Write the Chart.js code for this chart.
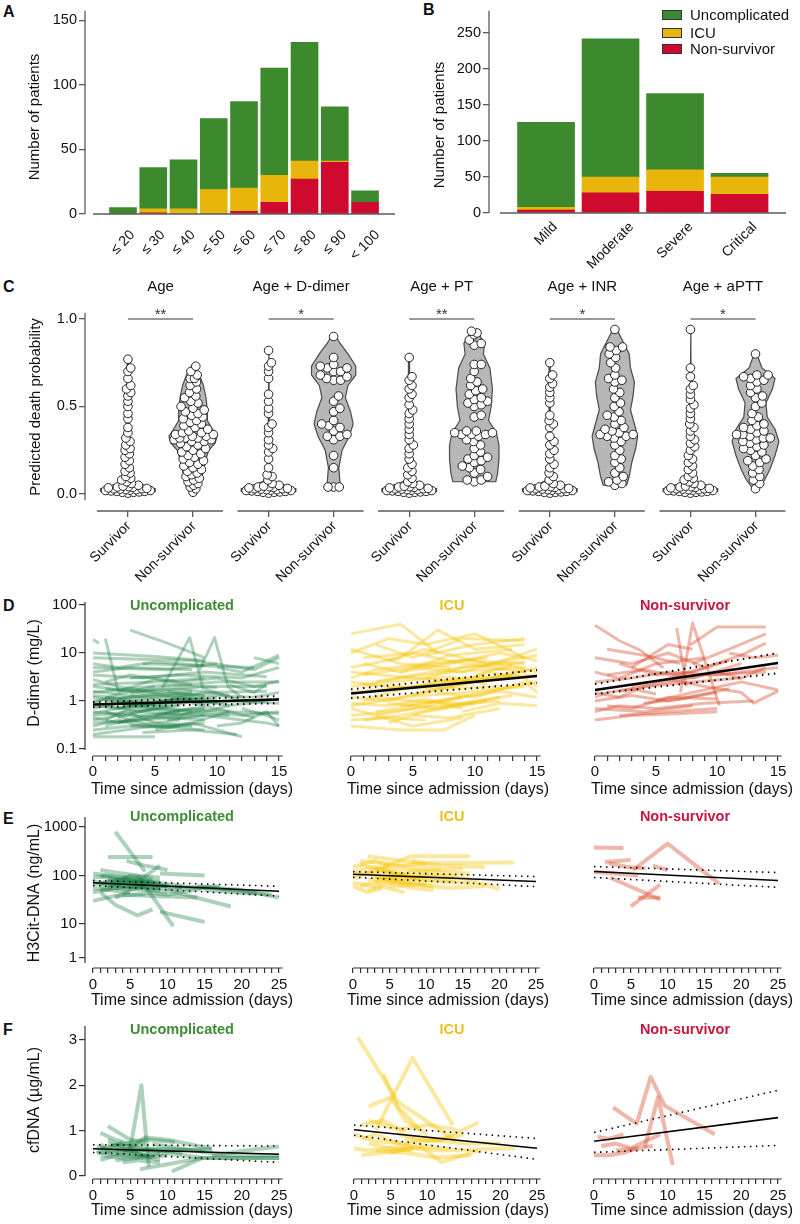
<!DOCTYPE html>
<html>
<head>
<meta charset="utf-8">
<title>Outcome panels</title>
<script src="https://cdn.jsdelivr.net/npm/chart.js@4.4.1/dist/chart.umd.min.js"></script>
<style>
  html, body { margin: 0; padding: 0; background: #fff; }
  body { position: relative; width: 800px; height: 1224px; overflow: hidden; font-family: "Liberation Sans", Arial, sans-serif; }
  canvas { position: absolute; }
  .tag { position: absolute; font-weight: bold; font-size: 16px; line-height: 16px; color: #111; }
</style>
</head>
<body>
<div class="tag" style="left:3px;top:4px">A</div>
<div class="tag" style="left:423px;top:2px">B</div>
<div class="tag" style="left:3px;top:279px">C</div>
<div class="tag" style="left:3px;top:598px">D</div>
<div class="tag" style="left:3px;top:811px">E</div>
<div class="tag" style="left:3px;top:1022px">F</div>
<script>
const FONT = '"Liberation Sans", Arial, sans-serif';
const GREEN = '#3d8a2e', YELLOW = '#e7b50b', RED = '#d00a2e';
const AXIS = '#5a5a5a', AXIS_DARK = '#333';

// ---- A: patients per age group
const ageGroups = ['≤ 20', '≤ 30', '≤ 40', '≤ 50', '≤ 60', '≤ 70', '≤ 80', '≤ 90', '< 100'];
const ageUncomplicated = [5, 32, 38, 55, 67, 83, 92, 42, 9];
const ageICU = [0, 3, 4, 19, 18, 21, 14, 1, 0];
const ageNonSurvivor = [0, 1, 0, 0, 2, 9, 27, 40, 9];
const ageTicks = [0, 50, 100, 150];

// ---- B: patients per severity
const severityGroups = ['Mild', 'Moderate', 'Severe', 'Critical'];
const sevUncomplicated = [118, 192, 106, 5];
const sevICU = [4, 22, 30, 24];
const sevNonSurvivor = [4, 28, 30, 26];
const sevTicks = [0, 50, 100, 150, 200, 250];

// ---- C: predicted death probability per model
const modelNames = ['Age', 'Age + D-dimer', 'Age + PT', 'Age + INR', 'Age + aPTT'];
const modelSig = ['**', '*', '**', '*', '*'];
const outcomeLabels = ['Survivor', 'Non-survivor'];
const probTicks = [0, 0.5, 1.0];
const survivorLow = [0.005, 0.01, 0.01, 0.012, 0.015, 0.015, 0.018, 0.02, 0.02, 0.022, 0.025, 0.025,
  0.028, 0.03, 0.03, 0.032, 0.035, 0.038, 0.04, 0.042, 0.045, 0.05];
const survivorProb = [
  [0.77, 0.72, 0.70, 0.66, 0.62, 0.60, 0.58, 0.56, 0.53, 0.50, 0.46, 0.43, 0.38, 0.35, 0.32, 0.30, 0.28, 0.26, 0.25, 0.23, 0.21, 0.19, 0.17, 0.15, 0.13, 0.12, 0.10, 0.09, 0.08, 0.07, 0.06],
  [0.82, 0.75, 0.73, 0.70, 0.66, 0.57, 0.53, 0.49, 0.46, 0.40, 0.38, 0.35, 0.31, 0.28, 0.26, 0.24, 0.20, 0.15, 0.11, 0.10, 0.08, 0.06],
  [0.78, 0.67, 0.65, 0.62, 0.60, 0.57, 0.55, 0.51, 0.48, 0.46, 0.43, 0.40, 0.37, 0.34, 0.31, 0.28, 0.26, 0.23, 0.20, 0.17, 0.15, 0.13, 0.11, 0.09, 0.07, 0.06],
  [0.75, 0.68, 0.66, 0.63, 0.61, 0.58, 0.55, 0.52, 0.45, 0.42, 0.40, 0.38, 0.33, 0.30, 0.28, 0.25, 0.23, 0.20, 0.17, 0.15, 0.12, 0.10, 0.08, 0.06],
  [0.94, 0.72, 0.67, 0.62, 0.60, 0.57, 0.54, 0.51, 0.49, 0.46, 0.43, 0.40, 0.38, 0.36, 0.33, 0.31, 0.29, 0.27, 0.25, 0.22, 0.20, 0.18, 0.16, 0.14, 0.12, 0.10, 0.09, 0.08, 0.07, 0.06]
];
const nonSurvivorProb = [
  [0.73, 0.70, 0.68, 0.66, 0.66, 0.64, 0.62, 0.60, 0.58, 0.56, 0.55, 0.53, 0.52, 0.50, 0.49, 0.48, 0.47, 0.46, 0.45, 0.44, 0.43, 0.42, 0.41, 0.40, 0.39, 0.38, 0.37, 0.36, 0.35, 0.35, 0.34, 0.34, 0.33, 0.33, 0.32, 0.32, 0.32, 0.31, 0.31, 0.30, 0.30, 0.29, 0.28, 0.27, 0.26, 0.25, 0.24, 0.23, 0.22, 0.21, 0.20, 0.19, 0.18, 0.17, 0.16, 0.15, 0.14, 0.13, 0.12, 0.11, 0.10, 0.09, 0.08, 0.07, 0.06, 0.05, 0.04, 0.03, 0.01],
  [0.90, 0.78, 0.74, 0.73, 0.72, 0.72, 0.70, 0.70, 0.68, 0.67, 0.66, 0.65, 0.65, 0.56, 0.53, 0.49, 0.47, 0.42, 0.40, 0.39, 0.38, 0.36, 0.34, 0.33, 0.33, 0.31, 0.22, 0.15, 0.04, 0.04, 0.04],
  [0.93, 0.92, 0.91, 0.88, 0.86, 0.85, 0.74, 0.74, 0.70, 0.66, 0.64, 0.62, 0.60, 0.59, 0.57, 0.55, 0.54, 0.53, 0.52, 0.51, 0.50, 0.45, 0.44, 0.36, 0.36, 0.35, 0.35, 0.34, 0.34, 0.34, 0.33, 0.31, 0.30, 0.28, 0.26, 0.24, 0.22, 0.21, 0.20, 0.19, 0.18, 0.16, 0.15, 0.14, 0.12, 0.10, 0.08, 0.08, 0.07],
  [0.94, 0.84, 0.84, 0.82, 0.80, 0.78, 0.75, 0.72, 0.68, 0.66, 0.65, 0.64, 0.60, 0.58, 0.55, 0.52, 0.50, 0.47, 0.45, 0.44, 0.42, 0.40, 0.38, 0.37, 0.36, 0.35, 0.34, 0.34, 0.33, 0.33, 0.32, 0.30, 0.28, 0.25, 0.22, 0.20, 0.18, 0.15, 0.12, 0.10, 0.08, 0.07, 0.06, 0.05],
  [0.80, 0.68, 0.68, 0.67, 0.66, 0.65, 0.64, 0.62, 0.60, 0.58, 0.56, 0.55, 0.52, 0.50, 0.46, 0.44, 0.42, 0.40, 0.39, 0.38, 0.37, 0.36, 0.35, 0.34, 0.34, 0.33, 0.32, 0.32, 0.31, 0.30, 0.29, 0.28, 0.27, 0.26, 0.25, 0.24, 0.22, 0.20, 0.19, 0.18, 0.16, 0.14, 0.12, 0.10, 0.08, 0.06, 0.03]
];
// violin outlines: density half-widths (x units) at probability levels
const survViolinY = [0, 0.015, 0.03, 0.05, 0.08, 0.12];
const survViolinW = [0.32, 0.42, 0.42, 0.22, 0.04, 0.012];
const survViolinTop = [0.77, 0.82, 0.78, 0.75, 0.94];
const nonViolinY = [
  [0.01, 0.05, 0.10, 0.15, 0.20, 0.25, 0.29, 0.33, 0.37, 0.42, 0.48, 0.55, 0.62, 0.68, 0.73],
  [0.03, 0.06, 0.15, 0.25, 0.33, 0.40, 0.47, 0.55, 0.62, 0.68, 0.73, 0.80, 0.86, 0.91],
  [0.07, 0.12, 0.20, 0.28, 0.35, 0.42, 0.50, 0.60, 0.72, 0.80, 0.86, 0.93],
  [0.05, 0.10, 0.18, 0.26, 0.33, 0.40, 0.48, 0.56, 0.64, 0.72, 0.80, 0.86, 0.94],
  [0.03, 0.08, 0.14, 0.22, 0.30, 0.37, 0.44, 0.52, 0.60, 0.66, 0.72, 0.80]
];
const nonViolinW = [
  [0.02, 0.10, 0.14, 0.17, 0.20, 0.24, 0.34, 0.37, 0.30, 0.22, 0.22, 0.20, 0.16, 0.10, 0.02],
  [0.13, 0.10, 0.08, 0.13, 0.24, 0.30, 0.26, 0.18, 0.22, 0.34, 0.34, 0.22, 0.10, 0.02],
  [0.33, 0.36, 0.38, 0.38, 0.34, 0.22, 0.26, 0.28, 0.24, 0.14, 0.16, 0.04],
  [0.18, 0.22, 0.26, 0.32, 0.35, 0.30, 0.24, 0.28, 0.30, 0.24, 0.22, 0.14, 0.03],
  [0.04, 0.14, 0.22, 0.30, 0.36, 0.30, 0.18, 0.16, 0.26, 0.30, 0.10, 0.02]
];

// ---- D/E/F: per-patient trajectories, flat [day, value, day, value, ...]
const dayTicks15 = [0, 1, 2, 3, 4, 5, 6, 7, 8, 9, 10, 11, 12, 13, 14, 15];
const dayTicks25 = [0, 1, 2, 3, 4, 5, 6, 7, 8, 9, 10, 11, 12, 13, 14, 15, 16, 17, 18, 19, 20, 21, 22, 23, 24, 25];
const dimerTicks = [0.1, 1, 10, 100];
const dimerTickLabels = ['0.1', '1', '10', '100'];
const h3Ticks = [2, 10, 100, 1000];
const h3TickLabels = ['1', '10', '100', '1000'];
const cfTicks = [0, 1, 2, 3];
const cfTickLabels = ['0', '1', '2', '3'];

const dimerUncomplicated = [
  [0,0.35, 4,0.4, 9,0.5], [0,0.5, 3,0.6, 7,0.8], [0,0.7, 2,0.9, 5,1.1, 9,0.9], [0,1.0, 4,1.3, 8,1.6],
  [0,1.5, 3,1.8, 6,2.2, 10,1.9], [0,2.2, 5,2.5, 9,3.0], [0,3.5, 4,3.0, 9,4.0, 14,3.2], [0,5.0, 6,4.5, 10,6.0],
  [0,10, 5,8.5, 9,7.0], [0,8.0, 3,7.5, 8,7.0, 13,4.5, 15,8.0], [0,0.25, 3,0.3, 7,0.4], [0,0.18, 5,0.18],
  [0,0.2, 4,0.28, 8,0.35, 11,0.6], [0,0.45, 2,0.35, 6,0.55, 11,0.5], [0,0.6, 3,0.5, 6,0.45, 9,0.4],
  [0,0.8, 2,0.7, 4,0.9, 9,1.2], [0,1.2, 2,1.0, 6,0.8], [0,2.8, 2,2.0, 5,1.5, 9,1.3], [0,4.0, 3,5.0, 8,4.5],
  [0,0.9, 2,1.4, 5,2.0], [0,19, 0.5,16], [1,20, 2,1.7], [1,0.4, 3,0.7, 6,0.9, 10,1.2], [1,0.3, 4,0.5, 7,0.6],
  [1,1.8, 4,1.5, 9,2.0, 14,2.0], [1,2.5, 3,3.5, 7,2.5], [1,0.6, 3,0.4, 5,0.3, 9,0.25], [2,0.7, 5,0.9, 9,1.5, 14,1.6],
  [2,1.1, 5,1.4, 9,0.9, 15,1.1], [2,0.9, 6,0.7, 12,0.5, 15,0.6], [2,0.45, 4,0.6, 8,1.0], [3,30, 6,16, 9,8],
  [3,1.4, 6,2.0, 10,2.5, 15,2.5], [3,0.55, 5,0.35, 8,0.3], [3,3.0, 7,3.5, 12,3.0, 15,5.0], [4,0.8, 7,1.2, 11,0.8],
  [4,6.0, 8,5.5, 13,5.0], [4,0.22, 8,0.25, 11.6,0.2], [5,0.25, 8,0.35, 12,0.18], [5.6,1.9, 7.8,21, 8.9,1.7],
  [5,0.5, 8,0.7, 11,0.6, 15,0.55], [6,1.6, 9,1.3, 13,1.2, 15,1.5], [6,0.4, 9,0.5, 14,0.35, 15,0.3],
  [7,2.5, 10,3.0, 13,2.0, 15,2.6], [8.6,4.4, 9.8,21, 10.9,1.95, 12,1.2], [8,0.9, 10,0.7, 13,0.45],
  [9,0.6, 11,0.8, 14,1.0], [9,1.8, 12,1.0, 15,0.9], [10,5.0, 12,4.0, 15,9.0], [10,0.3, 12,0.35, 14,0.6, 15,0.3],
  [11,2.2, 13,1.5, 14,2.2], [12,0.7, 14,0.5, 15,0.4], [0,1.3, 3,1.1, 7,1.3, 10,1.0], [0,0.4, 2,0.5, 5,0.7, 8,0.6],
  [1,0.8, 4,0.6, 7,0.5, 9,0.7], [0,2.0, 3,1.6, 7,1.8, 11,1.3], [0,0.3, 2,0.4, 4,0.3, 7,0.3], [2,1.6, 5,2.8, 8,2.2],
  [1,1.2, 3,1.0, 5,0.9], [0,6.0, 2,5.0, 5,6.5, 9,5.5], [3,0.3, 6,0.28, 9,0.35], [13,8.0, 15,6.0],
  [0,0.55, 3,0.8, 6,0.6, 9,0.75], [1,1.0, 4,0.9, 8,1.1], [2,0.35, 5,0.45, 9,0.6], [0,1.6, 4,1.2, 8,1.4]
];
const dimerICU = [
  [0,0.3, 4,0.25, 7.5,0.25, 10,0.5], [0,0.5, 3,0.6, 7,0.8, 12,1.0], [0,0.8, 4,1.2, 9,1.5, 14,2.0], [0,1.2, 3,1.0, 6,1.6, 10,2.5],
  [0,2.0, 4,3.0, 8,4.0, 14,5.0], [0,3.0, 2,4.5, 6,6.0, 11,8.0], [0,5.0, 4,8.0, 7,30, 10,12, 14,15], [0,10, 3,20, 6,15, 10,25, 14,8],
  [0,25, 4,40, 7,10], [0,0.7, 2,0.5, 5,0.7, 9,1.2], [0,1.5, 5,2.0, 9,3.0, 15,3.5], [1,0.4, 4,0.5, 8,0.8, 12,1.2],
  [1,3.5, 5,5.0, 9,7.0, 14,6.0], [1,6.0, 4,4.0, 8,9.0, 13,12], [1,1.0, 3,1.5, 7,2.5, 11,3.0], [2,0.6, 6,0.9, 10,1.4, 15,2.5],
  [2,15, 5,8, 9,20, 14,18], [2,2.5, 5,3.5, 10,5.5, 14,4.0], [3,0.35, 6,0.6, 10,0.9], [3,7.0, 6,12, 11,6.0, 15,9.0],
  [3,1.8, 7,2.2, 12,3.0, 15,5.0], [4,0.8, 7,1.0, 12,1.6, 15,1.2], [4,4.0, 8,6.0, 12,10, 15,7.0], [5,1.3, 8,2.0, 11,2.8, 14,4.5],
  [5,0.5, 8,0.45, 12,0.7], [6,3.0, 9,5.0, 14,6.5], [6,9.0, 10,15, 14,20], [7,1.5, 10,1.2, 14,2.5, 15,1.5],
  [0,0.9, 3,0.8, 6,1.1, 9,0.7], [0,4.0, 5,3.0, 9,2.5, 13,3.5], [0,2.5, 3,2.0, 8,1.8, 12,2.0], [2,1.2, 5,1.0, 9,0.9, 13,1.3],
  [1,8.0, 5,10, 9,6.0, 13,5.5], [0,0.4, 3,0.45, 6,0.4], [8,2.0, 11,4.0, 14,3.0, 15,2.0], [9,0.6, 12,0.9, 15,0.8],
  [3,0.9, 7,0.7, 11,1.0], [5,5.0, 9,4.0, 13,8.0, 15,12], [1,2.0, 4,2.6, 8,3.2, 11,2.2], [10,3.5, 13,5.5, 15,4.0],
  [0,12, 4,6.0, 8,5.0], [2,0.5, 5,0.3, 9,0.45]
];
const dimerNonSurvivor = [
  [0,38, 2,18, 3.7,11.5, 5.6,4.9], [0,0.4, 3,0.5, 7,0.55, 10,0.6], [0,0.6, 2,0.8, 5,0.7, 9,0.9, 13,1.0], [0,1.0, 3,1.3, 6,1.0, 10,1.5],
  [0,1.5, 2,1.2, 4,2.0, 8,2.5, 12,3.0], [0,2.5, 3,3.0, 6,4.0, 10,3.5, 15,5.0], [0,4.0, 2,3.0, 5,6.0, 9,8.0], [0,8.0, 3,6.0, 6,10, 9,5.0],
  [0,1.2, 1,1.5, 3,1.8, 5,1.4], [1,0.8, 3,0.7, 6,1.2, 10,1.1], [1,3.5, 4,4.5, 8,3.0, 12,6.0], [1,12, 4,9.0, 7,6.0],
  [2,1.6, 5,2.2, 9,3.5, 14,4.0], [2,0.5, 6,0.6, 10,0.7], [3,5.0, 6,15, 8,12], [3,2.0, 6,2.8, 9,2.0], [6.7,33, 7.5,2.0],
  [7,1.5, 8,42, 10.2,0.8], [7.8,14.7, 10,35, 14,35], [5,1.0, 8,1.5, 12,2.5, 15,1.7], [6,3.0, 9,5.0, 12,9.0, 14,16],
  [8,6.0, 11,12, 14,25], [9,2.0, 12,1.5, 13,0.9, 15,1.6], [10,4.0, 12,3.0, 14,5.0], [4,0.9, 7,1.1, 11,1.8],
  [0,0.7, 4,0.6, 8,0.8], [2,6.0, 5,3.5, 8,4.0, 11,7.0], [11,10, 13,8.0, 15,9.0]
];
const h3Uncomplicated = [
  [0,65, 3,75, 6,70, 10,60], [0,90, 2,100, 5,85, 9,75], [0,45, 3,55, 7,50, 10,45], [0,110, 3,95, 6,90], [0,30, 3,38, 7,42],
  [1,130, 3,115, 6,100, 9,90], [1,70, 4,85, 8,65, 12,55], [1,50, 5,62, 9,55], [1,95, 4,78, 7,72], [2,60, 5,100, 8,85],
  [2,75, 4,60, 6,55, 9,50], [3,800, 7,120], [2,240, 8,240], [4.5,200, 7,160, 10,130], [6,100, 10.8,9], [1,45, 3,25, 6,15, 8,20],
  [9,18, 15,11], [10,50, 18.5,23], [9,110, 15,100], [14,60, 20,50, 25,35], [15,50, 22,42], [3,55, 6,60, 11,52, 17,60],
  [4,40, 8,38, 14,35], [0,55, 2,50, 5,45], [5,70, 8,65, 10,60], [2,85, 6,75, 9,160], [7,45, 10,40, 15,55], [3,35, 5,50, 8,70],
  [0,75, 2,65, 4,70], [6,80, 9,70, 12,60], [11,60, 16,55, 24,40], [1,60, 3,65, 5,60, 7,58], [4,90, 6,80, 9,68],
  [2,55, 4,70, 7,62, 9,58], [3,80, 5,72, 8,75]
];
const h3ICU = [
  [0,120, 3,150, 6,100, 9,90], [0,90, 2,110, 5,80, 8,70], [0,150, 3,200, 5,160], [0,70, 3,60, 6,75, 10,65],
  [1,200, 4,180, 8,150, 12,140], [1,100, 3,130, 7,110], [1,60, 4,80, 8,55, 11,50], [2,250, 6,210, 10,170],
  [2,80, 5,95, 9,85, 14,80], [3,130, 8,250, 16,250], [4,150, 10,180, 22,185], [3,70, 8,120, 15,140], [5,110, 9,100, 15,90, 20,52],
  [4,90, 7,70, 11,60], [0,105, 4,120, 7,95], [2,50, 4,60, 7,45], [6,140, 10,120, 16,110], [5,60, 9,65, 13,55, 18,60],
  [1,170, 3,140, 6,130], [7,90, 11,75, 16,70], [0,60, 2,45, 4,55], [8,200, 12,160, 18,150], [3,100, 6,85, 10,100, 14,95]
];
const h3NonSurvivor = [
  [0,380, 4,370], [1.5,190, 5,210], [2,180, 4.5,150, 7,140], [5.3,130, 10,455, 17,68], [2.2,90, 9,32], [5,23, 9,65],
  [6,35, 9,35], [8,160, 10,130], [0,120, 3,110, 6,100]
];
const cfUncomplicated = [
  [1,0.95, 3,0.8, 5,0.7], [2,1.1, 5,0.8, 7,0.75], [0.5,0.5, 3,0.55, 6,0.6, 9,0.5], [1,0.6, 4,0.7, 7,0.8, 11,0.75],
  [1,0.45, 4,0.4, 8,0.45], [2,0.7, 5,0.65, 9,0.55, 16,0.6], [0.5,0.55, 2,0.5, 5,0.45, 8,0.4], [3,0.35, 6,0.4, 10,0.45],
  [5,0.6, 6.5,2.0, 7.5,0.2], [6.3,0.15, 14.7,0.4], [10.6,0.1, 14.7,0.4, 25,0.4], [4,0.5, 7,0.85, 10,0.8, 16,0.6],
  [2,0.8, 4,0.65, 7,0.7], [1,0.35, 3,0.45, 6,0.5, 9,0.35], [3,0.6, 6,0.55, 10,0.6, 15,0.55], [6,0.45, 10,0.5, 15,0.4, 25,0.4],
  [8,0.7, 12,0.6, 18,0.45, 25,0.45], [1,0.7, 2,0.55, 4,0.6, 6,0.5], [4,0.3, 6,0.35, 9,0.3], [16,0.45, 20,0.55, 25,0.65],
  [5,0.55, 8,0.6, 12,0.5], [0.5,0.65, 2,0.6, 4,0.75], [3,0.5, 5,0.55, 7,0.45]
];
const cfICU = [
  [0.5,3.0, 6,1.6, 14,0.75], [3,1.0, 8,2.55, 13.5,1.1], [2,1.5, 5,1.7, 7,1.2, 10,0.9], [1,0.8, 3,0.9, 6,0.7, 9,0.6],
  [0,0.6, 2,0.55, 5,0.6, 8,0.55], [1,1.1, 4,1.2, 7,0.95], [2,0.7, 5,0.6, 9,0.65, 13,0.6], [4,2.2, 6,1.5, 9,1.0],
  [0,0.9, 3,0.75, 7,0.7, 12,0.8, 17,1.15], [5,0.5, 8,0.6, 12,0.55, 22,0.6], [6,0.9, 10,0.8, 15,0.7, 20,0.7],
  [3,0.55, 7,0.5, 11,0.4, 16,0.45], [9,0.65, 12,0.3, 17,0.55], [1,0.45, 4,0.5, 8,0.6], [2,1.2, 6,1.0, 10,1.1, 14,1.0],
  [7,0.8, 11,0.75, 15,0.9]
];
const cfNonSurvivor = [
  [2.6,1.48, 5.8,1.13, 7.7,2.14, 9.6,1.52, 16.4,0.9], [6.9,0.62, 8.7,1.7, 10.7,0.24], [0.5,0.85, 2,0.8, 4,0.9],
  [1,0.65, 3,0.7, 5,0.6, 7,0.75, 9,0.9], [0,0.45, 2,0.45, 4,0.5, 6,0.6], [3,0.55, 6,0.6, 8,0.65]
];
// regression fit and confidence band, [value at day 0, value at last day], per outcome
const dimerFit = [[0.85, 1.07], [1.43, 3.3], [1.7, 6.2]];
const dimerLo = [[0.75, 0.9], [1.15, 2.37], [1.4, 3.8]];
const dimerHi = [[0.95, 1.27], [1.75, 4.4], [2.25, 10]];
const h3Fit = [[71, 47.5], [106, 75], [121, 79]];
const h3Lo = [[62, 37.5], [92, 59], [91, 57]];
const h3Hi = [[78.5, 60], [120, 95], [153, 115]];
const cfFit = [[0.6, 0.48], [1.0, 0.6], [0.75, 1.26]];
const cfLo = [[0.52, 0.3], [0.88, 0.36], [0.51, 0.66]];
const cfHi = [[0.69, 0.66], [1.1, 0.81], [0.94, 1.85]];

const outcomeNames = ['Uncomplicated', 'ICU', 'Non-survivor'];
const titleColors = ['#3f8c36', '#e9bf1d', '#c8163d'];
const lineColors = ['rgba(22,122,62,0.35)', 'rgba(246,198,12,0.4)', 'rgba(218,82,52,0.42)'];

Chart.defaults.font.family = FONT;
Chart.defaults.font.size = 14.5;
Chart.defaults.color = '#111';
Chart.defaults.animation = false;
Chart.defaults.events = [];
Chart.defaults.plugins.legend.display = false;
Chart.defaults.plugins.tooltip.enabled = false;

function mkCanvas(x, y, w, h) {
  const c = document.createElement('canvas');
  c.width = w; c.height = h;
  c.style.cssText = `left:${x}px;top:${y}px;width:${w}px;height:${h}px`;
  document.body.appendChild(c);
  return c;
}

function fixedTicks(values) {
  return s => { s.ticks = values.map(v => ({ value: v })); };
}

// axis lines detached from each other, rotated labels, free texts
function overlay(cfg) {
  return {
    id: 'overlay',
    afterDraw(chart) {
      const ctx = chart.ctx, area = chart.chartArea;
      const xs = chart.scales.x, ys = chart.scales.y;
      ctx.save();
      ctx.strokeStyle = cfg.axisColor;
      ctx.lineWidth = cfg.axisWidth || 1.3;
      if (cfg.yLine) {
        ctx.beginPath();
        ctx.moveTo(area.left, ys.getPixelForValue(cfg.yLine[0]));
        ctx.lineTo(area.left, ys.getPixelForValue(cfg.yLine[1]));
        ctx.stroke();
      }
      (cfg.xLines || []).forEach(([a, b]) => {
        ctx.beginPath();
        ctx.moveTo(xs.getPixelForValue(a), area.bottom);
        ctx.lineTo(xs.getPixelForValue(b), area.bottom);
        ctx.stroke();
      });
      if (cfg.catLabels) {
        const c = cfg.catLabels;
        ctx.font = c.font;
        ctx.fillStyle = '#111';
        c.values.forEach((v, i) => {
          const txt = c.labels[i % c.labels.length];
          const px = xs.getPixelForValue(v);
          ctx.save();
          if (c.mode === 'center') {
            const box = (ctx.measureText(txt).width + c.h) * Math.SQRT1_2;
            ctx.translate(px, c.top - cfg.oy + box / 2);
            ctx.textAlign = 'center';
          } else {
            ctx.translate(px + c.dx, c.top - cfg.oy);
            ctx.textAlign = 'right';
          }
          ctx.rotate(-Math.PI / 4);
          ctx.textBaseline = 'middle';
          ctx.fillText(txt, 0, 0);
          ctx.restore();
        });
      }
      (cfg.legend || []).forEach(it => {
        ctx.fillStyle = it.color;
        ctx.fillRect(it.x - cfg.ox, it.y - cfg.oy - 5, 20, 10);
        ctx.lineWidth = 1;
        ctx.strokeStyle = '#333';
        ctx.strokeRect(it.x - cfg.ox + 0.5, it.y - cfg.oy - 4.5, 19, 9);
        ctx.fillStyle = '#111';
        ctx.font = '15px ' + FONT;
        ctx.textAlign = 'left';
        ctx.textBaseline = 'middle';
        ctx.fillText(it.t, it.x - cfg.ox + 28, it.y - cfg.oy + 1);
      });
      (cfg.texts || []).forEach(t => {
        const x = t.xv !== undefined ? xs.getPixelForValue(t.xv) : t.x - cfg.ox;
        const y = t.yv !== undefined ? ys.getPixelForValue(t.yv) + (t.dy || 0) : t.y - cfg.oy;
        ctx.save();
        ctx.translate(x, y);
        if (t.rot) ctx.rotate(t.rot * Math.PI / 180);
        ctx.font = t.font;
        ctx.fillStyle = t.color || '#111';
        ctx.textAlign = t.align || 'center';
        ctx.textBaseline = t.base || 'middle';
        ctx.fillText(t.t, 0, 0);
        ctx.restore();
      });
      ctx.restore();
    }
  };
}

function pairs(flat) {
  const pts = [];
  for (let i = 0; i < flat.length; i += 2) pts.push({ x: flat[i], y: flat[i + 1] });
  return pts;
}

// ---------------- A ----------------
const ageIdx = ageGroups.map((_, i) => i);
new Chart(mkCanvas(0, 0, 400, 290), {
  type: 'bar',
  data: {
    datasets: [
      { label: 'Non-survivor', data: ageNonSurvivor.map((v, i) => ({ x: i, y: v })), backgroundColor: RED },
      { label: 'ICU', data: ageICU.map((v, i) => ({ x: i, y: v })), backgroundColor: YELLOW },
      { label: 'Uncomplicated', data: ageUncomplicated.map((v, i) => ({ x: i, y: v })), backgroundColor: GREEN }
    ]
  },
  options: {
    responsive: false,
    layout: { autoPadding: false, padding: { left: 0, top: 5, right: 5, bottom: 0 } },
    datasets: { bar: { barThickness: 27, borderWidth: 0 } },
    scales: {
      x: {
        type: 'linear', stacked: true, offset: false, min: -1.256, max: 8.99,
        afterBuildTicks: fixedTicks(ageIdx), afterFit: s => { s.height = 76; },
        border: { display: false }, grid: { display: false, drawTicks: false, offset: false }, ticks: { display: false }
      },
      y: {
        type: 'linear', stacked: true, min: 0, max: 157.5,
        afterBuildTicks: fixedTicks(ageTicks), afterFit: s => { s.width = 85; },
        border: { display: false }, grid: { drawOnChartArea: false, tickLength: 6, color: AXIS, lineWidth: 1.3 },
        ticks: { padding: 2 }
      }
    }
  },
  plugins: [overlay({
    ox: 0, oy: 0, axisColor: AXIS, yLine: [157.5, 0], xLines: [[-0.99, 8.99]],
    catLabels: { mode: 'center', values: ageIdx, labels: ageGroups, top: 229, h: 11, font: '14px ' + FONT },
    texts: [{ t: 'Number of patients', x: 35, y: 117, rot: -90, font: '15px ' + FONT }]
  })]
});

// ---------------- B ----------------
const sevIdx = severityGroups.map((_, i) => i);
new Chart(mkCanvas(400, 0, 400, 290), {
  type: 'bar',
  data: {
    datasets: [
      { label: 'Non-survivor', data: sevNonSurvivor.map((v, i) => ({ x: i, y: v })), backgroundColor: RED },
      { label: 'ICU', data: sevICU.map((v, i) => ({ x: i, y: v })), backgroundColor: YELLOW },
      { label: 'Uncomplicated', data: sevUncomplicated.map((v, i) => ({ x: i, y: v })), backgroundColor: GREEN }
    ]
  },
  options: {
    responsive: false,
    layout: { autoPadding: false, padding: { left: 0, top: 5, right: 14, bottom: 0 } },
    datasets: { bar: { barThickness: 57, borderWidth: 0 } },
    scales: {
      x: {
        type: 'linear', stacked: true, offset: false, min: -0.884, max: 3.72,
        afterBuildTicks: fixedTicks(sevIdx), afterFit: s => { s.height = 77; },
        border: { display: false }, grid: { display: false, drawTicks: false, offset: false }, ticks: { display: false }
      },
      y: {
        type: 'linear', stacked: true, min: 0, max: 281,
        afterBuildTicks: fixedTicks(sevTicks), afterFit: s => { s.width = 89; },
        border: { display: false }, grid: { drawOnChartArea: false, tickLength: 6, color: AXIS, lineWidth: 1.3 },
        ticks: { padding: 2 }
      }
    }
  },
  plugins: [overlay({
    ox: 400, oy: 0, axisColor: AXIS, yLine: [281, 0], xLines: [[-0.713, 3.72]],
    catLabels: { mode: 'center', values: sevIdx, labels: severityGroups, top: 221, h: 11, font: '14px ' + FONT },
    legend: [
      { t: 'Uncomplicated', color: GREEN, x: 662, y: 15 },
      { t: 'ICU', color: YELLOW, x: 662, y: 33 },
      { t: 'Non-survivor', color: RED, x: 662, y: 49 }
    ],
    texts: [{ t: 'Number of patients', x: 440, y: 125, rot: -90, font: '15px ' + FONT }]
  })]
});

// ---------------- C ----------------
const GROUP_GAP = 2.1615;
const PX_X = 65, PX_Y = 175; // approx pixels per unit, for the swarm layout only
function interp(levels, widths, y) {
  if (y <= levels[0]) return widths[0];
  for (let i = 1; i < levels.length; i++) {
    if (y <= levels[i]) {
      const f = (y - levels[i - 1]) / (levels[i] - levels[i - 1]);
      return widths[i - 1] + f * (widths[i] - widths[i - 1]);
    }
  }
  return widths[widths.length - 1];
}
// points spread sideways inside the violin; they overlap where the violin is too narrow
function swarm(vals, center, minDist, levels, widths) {
  const placed = [];
  return vals.slice().sort((a, b) => a - b).map(v => {
    const cap = Math.max(interp(levels, widths, v) * PX_X - 2, 3);
    let best = 0, bestD = -1;
    for (let k = 0; ; k++) {
      const cand = (k % 2 ? 1 : -1) * Math.ceil(k / 2) * 0.7;
      if (Math.abs(cand) > cap) break;
      let d = Infinity;
      placed.forEach(p => { d = Math.min(d, Math.hypot(p[0] - cand, (p[1] - v) * PX_Y)); });
      if (d >= minDist) { best = cand; break; }
      if (d > bestD) { bestD = d; best = cand; }
    }
    placed.push([best, v]);
    return { x: center + best / PX_X, y: v };
  });
}
function violin(levels, widths, center) {
  const right = levels.map((y, i) => ({ x: center + widths[i], y }));
  const left = levels.map((y, i) => ({ x: center - widths[i], y })).reverse();
  return right.concat(left, [right[0]]);
}
const cDatasets = [];
const cTickVals = [];
const cXLines = [];
const cTexts = [];
modelNames.forEach((name, g) => {
  const base = g * GROUP_GAP;
  cTickVals.push(base, base + 1);
  cXLines.push([base - 0.477, base + 1.46]);
  const sY = survViolinY.concat([survViolinTop[g]]);
  const sW = survViolinW.concat([0.006]);
  const vioStyle = { showLine: true, fill: 'shape', backgroundColor: '#b7b7b7', borderColor: '#4a4a4a', borderWidth: 1.2, pointRadius: 0, order: 3 };
  cDatasets.push(Object.assign({ data: violin(sY, sW, base) }, vioStyle));
  cDatasets.push(Object.assign({ data: violin(nonViolinY[g], nonViolinW[g], base + 1) }, vioStyle));
  const dotStyle = { showLine: false, pointRadius: 4.3, pointBackgroundColor: '#fff', pointBorderColor: '#222', pointBorderWidth: 1, order: 1 };
  cDatasets.push(Object.assign({ data: swarm(survivorLow.concat(survivorProb[g]), base, 5, [0, 0.03, 0.06, 0.09, 0.3, 1], [0.4, 0.4, 0.2, 0.1, 0.1, 0.05]) }, dotStyle));
  cDatasets.push(Object.assign({ data: swarm(nonSurvivorProb[g], base + 1, 7, nonViolinY[g], nonViolinW[g]) }, dotStyle));
  cDatasets.push({ data: [{ x: base, y: 1 }, { x: base + 1, y: 1 }], showLine: true, borderColor: '#777', borderWidth: 1.5, pointRadius: 0, order: 2 });
  cTexts.push({ t: name, xv: base + 0.5, y: 291, base: 'alphabetic', font: '15px ' + FONT });
  cTexts.push({ t: modelSig[g], xv: base + 0.5, yv: 1, dy: 0.5, base: 'alphabetic', font: '15px ' + FONT, color: '#333' });
});
cTexts.push({ t: 'Predicted death probability', x: 36, y: 407, rot: -90, font: '15px ' + FONT });

new Chart(mkCanvas(0, 280, 800, 320), {
  type: 'scatter',
  data: { datasets: cDatasets },
  options: {
    responsive: false,
    layout: { autoPadding: false, padding: { left: 0, top: 33, right: 13, bottom: 0 } },
    scales: {
      x: {
        type: 'linear', min: -0.66, max: 10.13,
        afterBuildTicks: fixedTicks(cTickVals), afterFit: s => { s.height = 89; },
        border: { display: false }, grid: { drawOnChartArea: false, offset: false, tickLength: 6, color: AXIS, lineWidth: 1.3 },
        ticks: { display: false }
      },
      y: {
        type: 'linear', min: -0.097, max: 1.034,
        afterBuildTicks: fixedTicks(probTicks), afterFit: s => { s.width = 85; },
        border: { display: false }, grid: { drawOnChartArea: false, tickLength: 6, color: AXIS, lineWidth: 1.3 },
        ticks: { padding: 2, callback: v => Number(v).toFixed(1) }
      }
    }
  },
  plugins: [overlay({
    ox: 0, oy: 280, axisColor: AXIS, yLine: [1.034, -0.035], xLines: cXLines,
    catLabels: { mode: 'end', values: cTickVals, labels: outcomeLabels, top: 524, dx: 1, font: '14px ' + FONT },
    texts: cTexts
  })]
});

// ---------------- D / E / F ----------------
function timePanel(p) {
  const [bx, by, bw, bh] = p.box;
  const [L, T, R, B] = p.area;
  const lastDay = p.dayTicks[p.dayTicks.length - 1];
  const datasets = [
    { data: [{ x: 0, y: p.fit[0] }, { x: lastDay, y: p.fit[1] }], borderColor: '#000', borderWidth: p.fitWidth, order: 0 },
    { data: [{ x: 0, y: p.lo[0] }, { x: lastDay, y: p.lo[1] }], borderColor: '#000', borderWidth: p.dotWidth, borderDash: [1.5, 4.5], order: 0 },
    { data: [{ x: 0, y: p.hi[0] }, { x: lastDay, y: p.hi[1] }], borderColor: '#000', borderWidth: p.dotWidth, borderDash: [1.5, 4.5], order: 0 }
  ];
  p.traj.forEach(t => datasets.push({ data: pairs(t), borderColor: p.color, borderWidth: p.lineWidth, order: 1 }));
  const texts = [
    { t: p.title, x: p.titleX, y: p.titleY, font: 'bold 14.5px ' + FONT, color: p.titleColor },
    { t: 'Time since admission (days)', x: p.xTitleX, y: p.xTitleY, font: '16px ' + FONT }
  ];
  if (p.yTitle) texts.push({ t: p.yTitle, x: 35, y: p.yTitleY, rot: -90, font: '16px ' + FONT });
  new Chart(mkCanvas(bx, by, bw, bh), {
    type: 'scatter',
    data: { datasets },
    options: {
      responsive: false,
      layout: { autoPadding: false, padding: { left: 0, top: T - by, right: bx + bw - R, bottom: 0 } },
      elements: { point: { radius: 0 }, line: { borderJoinStyle: 'round', borderCapStyle: 'butt' } },
      datasets: { scatter: { showLine: true } },
      scales: {
        x: {
          type: 'linear', min: (L - p.x0) / p.ppd, max: (R - p.x0) / p.ppd,
          afterBuildTicks: fixedTicks(p.dayTicks), afterFit: s => { s.height = by + bh - B; },
          border: { display: false }, grid: { drawOnChartArea: false, offset: false, tickLength: 5, color: AXIS_DARK, lineWidth: 1.2 },
          ticks: { autoSkip: false, maxRotation: 0, minRotation: 0, padding: p.tickPad, font: { size: 15 }, callback: v => (v % 5 === 0 ? String(v) : '') }
        },
        y: {
          type: p.yType, min: p.yMin, max: p.yMax,
          afterBuildTicks: fixedTicks(p.yTicks), afterFit: s => { s.width = L - bx; },
          border: { display: false },
          grid: { display: p.showY, drawOnChartArea: false, tickLength: 6, color: AXIS_DARK, lineWidth: 1.2 },
          ticks: { display: p.showY, padding: 2, font: { size: 15 }, callback: (v, i) => p.yLabels[i] }
        }
      }
    },
    plugins: [overlay({
      ox: bx, oy: by, axisColor: AXIS_DARK, axisWidth: 1.2,
      yLine: p.showY ? p.yLine : null, xLines: [[0, p.xEnd]], texts
    })]
  });
}

const colBoxes = [[0, 300], [300, 258], [558, 242]];
const colAreas = [[85, 285], [343, 543], [587, 790]];
const titleXs = [182, 452, 685];
const xTitleXs = [192, 448, 692];

const dimerSets = [dimerUncomplicated, dimerICU, dimerNonSurvivor];
const dimerX0 = [93, 351, 595], dimerPpd = [12.4, 12.4, 12.2];
dimerSets.forEach((traj, k) => timePanel({
  box: [colBoxes[k][0], 590, colBoxes[k][1], 215], area: [colAreas[k][0], 602, colAreas[k][1], 756],
  x0: dimerX0[k], ppd: dimerPpd[k], dayTicks: dayTicks15, xEnd: 15.3, tickPad: 2,
  yType: 'logarithmic', yMin: 0.0715, yMax: 115.5, yTicks: dimerTicks, yLabels: dimerTickLabels, showY: k === 0, yLine: [115.5, 0.095],
  yTitle: k === 0 ? 'D-dimer (mg/L)' : null, yTitleY: 673,
  title: outcomeNames[k], titleColor: titleColors[k], titleX: titleXs[k], titleY: 606, xTitleX: xTitleXs[k], xTitleY: 790,
  traj, color: lineColors[k], lineWidth: 3,
  fit: dimerFit[k], lo: dimerLo[k], hi: dimerHi[k], fitWidth: 2.5, dotWidth: 2
}));

const h3Sets = [h3Uncomplicated, h3ICU, h3NonSurvivor];
const x0_25 = [93, 353, 594], ppd25 = [7.44, 7.32, 7.36];
h3Sets.forEach((traj, k) => timePanel({
  box: [colBoxes[k][0], 805, colBoxes[k][1], 215], area: [colAreas[k][0], 817, colAreas[k][1], 968],
  x0: x0_25[k], ppd: ppd25[k], dayTicks: dayTicks25, xEnd: 25.5, tickPad: 3,
  yType: 'logarithmic', yMin: 1.239, yMax: 1607, yTicks: h3Ticks, yLabels: h3TickLabels, showY: k === 0, yLine: [1607, 1.57],
  yTitle: k === 0 ? 'H3Cit-DNA (ng/mL)' : null, yTitleY: 893,
  title: outcomeNames[k], titleColor: titleColors[k], titleX: titleXs[k], titleY: 817, xTitleX: xTitleXs[k], xTitleY: 1001,
  traj, color: lineColors[k], lineWidth: 4,
  fit: h3Fit[k], lo: h3Lo[k], hi: h3Hi[k], fitWidth: 1.6, dotWidth: 1.6
}));

const cfSets = [cfUncomplicated, cfICU, cfNonSurvivor];
const cfX0 = [93, 354, 594];
cfSets.forEach((traj, k) => timePanel({
  box: [colBoxes[k][0], 1015, colBoxes[k][1], 209], area: [colAreas[k][0], 1023, colAreas[k][1], 1179],
  x0: cfX0[k], ppd: ppd25[k], dayTicks: dayTicks25, xEnd: 25.5, tickPad: 3,
  yType: 'linear', yMin: -0.065, yMax: 3.305, yTicks: cfTicks, yLabels: cfTickLabels, showY: k === 0, yLine: [3.305, 0],
  yTitle: k === 0 ? 'cfDNA (µg/mL)' : null, yTitleY: 1100,
  title: outcomeNames[k], titleColor: titleColors[k], titleX: titleXs[k], titleY: 1030, xTitleX: xTitleXs[k], xTitleY: 1211,
  traj, color: lineColors[k], lineWidth: 4,
  fit: cfFit[k], lo: cfLo[k], hi: cfHi[k], fitWidth: 1.6, dotWidth: 1.6
}));
</script>
</body>
</html>
